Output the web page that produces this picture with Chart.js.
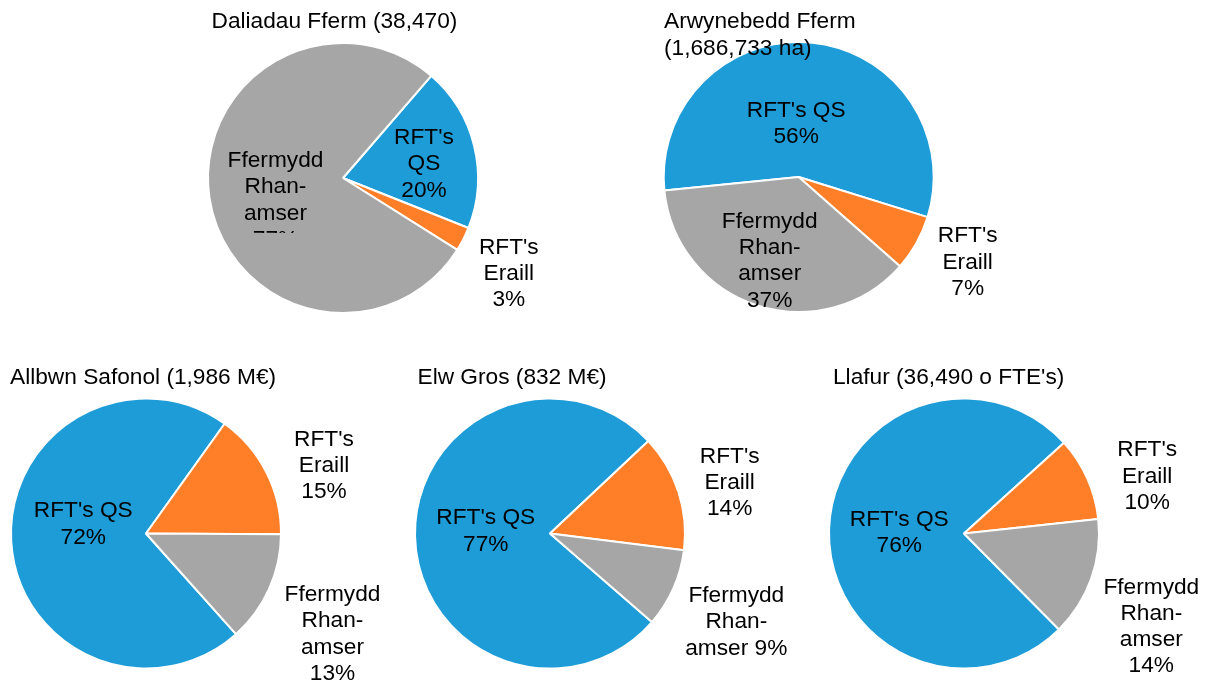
<!DOCTYPE html>
<html>
<head>
<meta charset="utf-8">
<script src="https://cdn.jsdelivr.net/npm/chart.js@4.4.0/dist/chart.umd.min.js"></script>
<style>
    body { margin: 0; background: #fff; }
    #wrap {
        position: relative;
        width: 1208px;
        height: 684px;
        overflow: hidden;
        font-family: "Liberation Sans", Arial, sans-serif;
    }
    #wrap canvas { position: absolute; left: 0; top: 0; }
    .pie-title {
        position: absolute;
        font-size: 22.7px;
        line-height: 26.7px;
        color: #000;
        white-space: nowrap;
    }
</style>
</head>
<body>
<div id="wrap"></div>
<script>
// Slice categories (same order in every pie, clockwise from the rotation point)
const categories = ["RFT's QS", "RFT's Eraill", "Ffermydd Rhan-amser"];

// Share of each category (%), one array per pie
const daliadau = [19.7, 2.9, 77.4];
const arwynebedd = [56.4, 6.7, 36.9];
const allbwn = [71.5, 15.2, 13.3];
const elwGros = [76.6, 14.0, 9.4];
const llafur = [75.7, 10.0, 14.3];

const titles = [
    'Daliadau Fferm (38,470)',
    'Arwynebedd Fferm<br>(1,686,733 ha)',
    'Allbwn Safonol (1,986 M€)',
    'Elw Gros (832 M€)',
    "Llafur (36,490 o FTE's)"
];

const colours = ['#1e9cd7', '#fe7f27', '#a6a6a6'];

const W = 1208, H = 684;
const HALF = 140;       // half size of each pie's chart area
const RADIUS = 135;
const LINE_H = 26.3;
const FONT = '22.7px "Liberation Sans", Arial, sans-serif';

// Layout of each pie: centre, start angle, title spot, and label offsets
// label spot = [dx, dy from pie centre, wrap width, clip below (optional)]
const panels = [
    { values: daliadau, cx: 343, cy: 178, rotation: 40.8, titleX: 211.5, titleTop: 7.1,
      spots: [[81, -15.7, 70], [165.8, 94, 80], [-67.5, 20.3, 104, 55]] },
    { values: arwynebedd, cx: 798.7, cy: 177, rotation: 264.25, titleX: 664, titleTop: 7.1,
      spots: [[-2.5, -55, 104], [169, 83.5, 80], [-29, 82, 104]] },
    { values: allbwn, cx: 146, cy: 533.5, rotation: 138.2, titleX: 10, titleTop: 363.1,
      spots: [[-62.7, -11, 104], [178, -69.7, 80], [186.5, 99, 104]] },
    { values: elwGros, cx: 550, cy: 533.5, rotation: 131, titleX: 417.5, titleTop: 363.1,
      spots: [[-64.2, -4.1, 104], [179.7, -52.7, 80], [186.3, 86.8, 104]] },
    { values: llafur, cx: 964, cy: 533.5, rotation: 135.3, titleX: 833, titleTop: 363.1,
      spots: [[-64.7, -2.8, 104], [183.2, -59, 80], [187.3, 91.4, 104]] }
];

function wrapText(ctx, text, maxW) {
    const pieces = [];
    text.split(' ').forEach((word, wi) => {
        word.split(/(?<=-)/).forEach((part, pi) => {
            pieces.push({ txt: part, sep: (pi === 0 && wi > 0) ? ' ' : '' });
        });
    });
    const lines = [];
    let cur = '';
    pieces.forEach(p => {
        const trial = cur ? cur + p.sep + p.txt : p.txt;
        if (!cur || ctx.measureText(trial).width <= maxW) {
            cur = trial;
        } else {
            lines.push(cur);
            cur = p.txt;
        }
    });
    if (cur) lines.push(cur);
    return lines;
}

// Draws "name NN%" labels next to each slice
const sliceLabels = {
    id: 'sliceLabels',
    afterDatasetsDraw(chart, args, opts) {
        const ctx = chart.ctx;
        const meta = chart.getDatasetMeta(0);
        const values = chart.data.datasets[0].data;
        const total = values.reduce((a, b) => a + b, 0);
        ctx.save();
        ctx.font = FONT;
        ctx.fillStyle = '#000';
        ctx.textAlign = 'center';
        ctx.textBaseline = 'alphabetic';
        meta.data.forEach((arc, i) => {
            const [dx, dy, maxW, clipBelow] = opts.spots[i];
            const pct = Math.round(values[i] / total * 100);
            const lines = wrapText(ctx, chart.data.labels[i] + ' ' + pct + '%', maxW);
            const x = arc.x + dx;
            const y = arc.y + dy;
            ctx.save();
            if (clipBelow) {
                ctx.beginPath();
                ctx.rect(0, 0, chart.width, arc.y + clipBelow);
                ctx.clip();
            }
            lines.forEach((ln, k) => {
                ctx.fillText(ln, x, y + (k - (lines.length - 1) / 2) * LINE_H + 8.1);
            });
            ctx.restore();
        });
        ctx.restore();
    }
};

const wrap = document.getElementById('wrap');

panels.forEach((p, idx) => {
    const canvas = document.createElement('canvas');
    canvas.width = W;
    canvas.height = H;
    wrap.appendChild(canvas);

    const title = document.createElement('div');
    title.className = 'pie-title';
    title.style.left = p.titleX + 'px';
    title.style.top = p.titleTop + 'px';
    title.innerHTML = titles[idx];
    wrap.appendChild(title);

    new Chart(canvas.getContext('2d'), {
        type: 'pie',
        data: {
            labels: categories,
            datasets: [{
                data: p.values,
                backgroundColor: colours,
                borderColor: '#ffffff',
                borderWidth: 2,
                rotation: p.rotation,
                radius: RADIUS
            }]
        },
        options: {
            responsive: false,
            animation: false,
            events: [],
            layout: {
                padding: {
                    left: p.cx - HALF,
                    right: W - p.cx - HALF,
                    top: p.cy - HALF,
                    bottom: H - p.cy - HALF
                }
            },
            plugins: {
                legend: { display: false },
                tooltip: { enabled: false },
                sliceLabels: { spots: p.spots }
            }
        },
        plugins: [sliceLabels]
    });
});
</script>
</body>
</html>
